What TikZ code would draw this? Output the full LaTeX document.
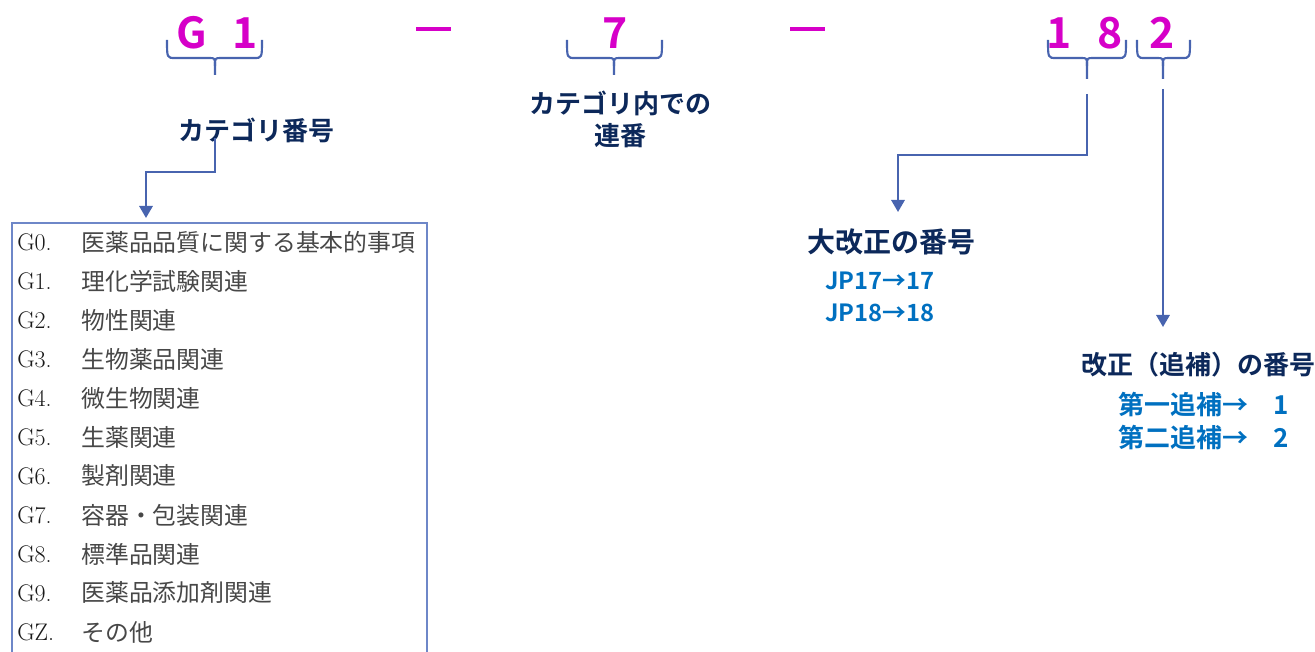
\documentclass[tikz,border=0pt]{standalone}
\usepackage{fontspec}
\newfontfamily\jp{Noto Sans CJK JP}[BoldFont={Noto Sans CJK JP Bold}]
\usetikzlibrary{arrows.meta}
\definecolor{mag}{RGB}{214,0,200}
\definecolor{lineblue}{RGB}{72,100,175}
\definecolor{navy}{RGB}{12,40,90}
\definecolor{txtblue}{RGB}{0,112,192}
\definecolor{boxblue}{RGB}{110,135,200}
\tikzset{
  digit/.style={font=\jp\bfseries\fontsize{32pt}{32pt}\selectfont, text=mag, inner sep=0pt},
  dashbar/.style={fill=mag, draw=none},
  bracepath/.style={draw=lineblue, line width=1.6pt},
  conn/.style={draw=lineblue, line width=1.6pt},
  arr/.style={conn, -{Triangle[length=9pt,width=10pt]}},
  head/.style={font=\jp\bfseries\fontsize{19.5pt}{24pt}\selectfont, text=navy, inner sep=0pt, align=center},
  sub/.style={font=\jp\bfseries\fontsize{17.8pt}{18pt}\selectfont, text=txtblue, inner sep=0pt, anchor=west},
  subb/.style={sub, font=\jp\bfseries\fontsize{19.5pt}{20pt}\selectfont},
  code/.style={font=\fontsize{18pt}{18pt}\selectfont, text=black!90, inner sep=0pt, anchor=west},
  desc/.style={font=\jp\fontsize{17.9pt}{18pt}\selectfont, text=black!72, inner sep=0pt, anchor=west},
}
\newcommand{\mybrace}[4]{% x1, xm, x2, ybottom
  \draw[bracepath] (#1,40) .. controls (#1,58) .. (#1+8,58) -- (#2-6,58) .. controls (#2,58) .. (#2,66) -- (#2,#4);
  \draw[bracepath] (#3,40) .. controls (#3,58) .. (#3-8,58) -- (#2+6,58) .. controls (#2,58) .. (#2,66);
}
\begin{document}
\begin{tikzpicture}[x=0.75pt,y=-0.75pt]
\useasboundingbox (0,0) rectangle (1315,652);
\clip (0,0) rectangle (1315,652);
% digits
\node[digit] (g) at (192,33) {G};
\node[digit] (one) at (245,33) {1};
\node[digit] (seven) at (615,33) {7};
\node[digit] (d1) at (1059,33) {1};
\node[digit] (d8) at (1110,33) {8};
\node[digit] (d2) at (1162,33) {2};
\path[dashbar] (416,27) rectangle (451,31);
\path[dashbar] (790,27) rectangle (825,31);
% braces
\mybrace{167}{215}{262}{75}
\mybrace{567}{614}{662}{75}
\mybrace{1048}{1087}{1126}{79}
\mybrace{1137}{1163}{1190}{79}
% headings
\node[head] (cat) at (256,130) {カテゴリ番号};
\node[head] (seq) at (620,119) {カテゴリ内での\\連番};
\node[head, font=\jp\bfseries\fontsize{21pt}{24pt}\selectfont] (major) at (891,242) {大改正の番号};
\node[sub] (jp17) at (825,281) {JP17→17};
\node[sub] (jp18) at (825,313) {JP18→18};
\node[head, font=\jp\bfseries\fontsize{19.5pt}{24pt}\selectfont] (minor) at (1198,365) {改正（追補）の番号};
\node[subb] (s1) at (1118,405) {第一追補→\hspace{19pt}1};
\node[subb] (s2) at (1118,438) {第二追補→\hspace{19pt}2};
% connectors
\coordinate (c1top) at (215,138);
\coordinate (c3top) at (1087,94);
\coordinate (c4top) at (1163,89);
\coordinate (boxtop) at (146,218);
\coordinate (majtop) at (898,212);
\coordinate (mintop) at (1163,327);
\draw[arr] (c1top) |- (146,172) -- (boxtop);
\draw[arr] (c3top) |- (898,155) -- (majtop);
\draw[arr] (c4top) -- (mintop);
% list box
\draw[draw=boxblue, line width=1.2pt] (12,223) rectangle (427,680);
\foreach \c/\t/\y [count=\i] in {
 G0./医薬品品質に関する基本的事項/242,
 G1./理化学試験関連/281,
 G2./物性関連/320,
 G3./生物薬品関連/359,
 G4./微生物関連/398,
 G5./生薬関連/437,
 G6./製剤関連/476,
 G7./容器・包装関連/515,
 G8./標準品関連/554,
 G9./医薬品添加剤関連/593,
 GZ./その他/632}{
  \node[code] (code\i) at (17,\y) {\c};
  \node[desc] (desc\i) at (81,\y) {\t};
}
\end{tikzpicture}
\end{document}
